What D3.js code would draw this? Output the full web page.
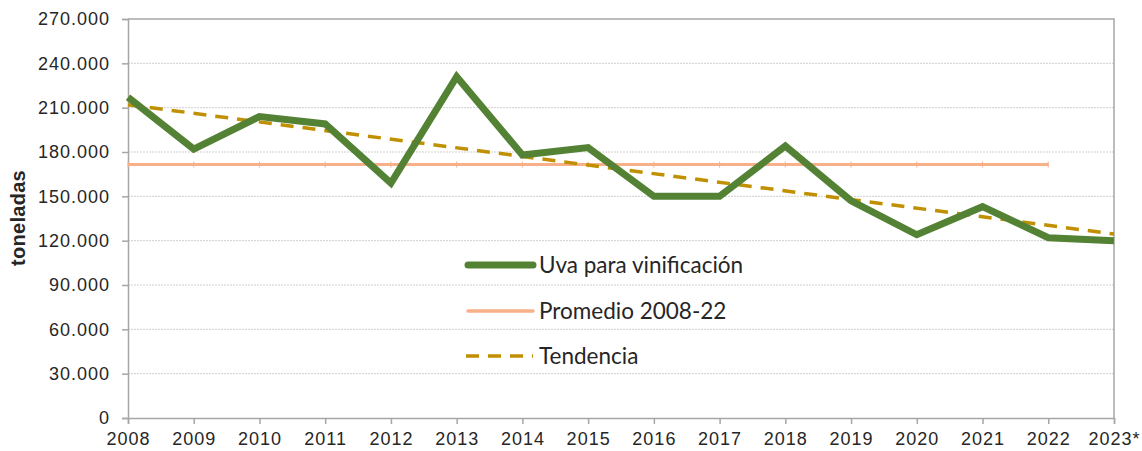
<!DOCTYPE html>
<html lang="es">
<head>
<meta charset="UTF-8">
<title>Uva para vinificación</title>
<script src="https://d3js.org/d3.v7.min.js"></script>
<style>
  * { margin: 0; padding: 0; }
  body { background: #fff; width: 1142px; height: 451px; overflow: hidden; }
  svg { display: block; }
  .tick-lbl { font-family: "Liberation Sans", Arial, sans-serif; font-size: 18px; fill: #262626; letter-spacing: 1px; }
  .legend-lbl { font-family: Lato, "Open Sans", sans-serif; font-size: 22.5px; fill: #262626; }
</style>
</head>
<body>
<svg id="chart" width="1142" height="451"></svg>
<script>
// datos
const years = ['2008','2009','2010','2011','2012','2013','2014','2015','2016','2017','2018','2019','2020','2021','2022','2023*'];
const uva = [217000, 182000, 204000, 199000, 159000, 231000, 178000, 183000, 150000, 150000, 184000, 147000, 124000, 143000, 122000, 120000];
const promedioYears = ['2008','2009','2010','2011','2012','2013','2014','2015','2016','2017','2018','2019','2020','2021','2022'];
const promedio = 171500;
const tendenciaYears = ['2008', '2023*'];
const tendencia = [212000, 124500];
const yTicks = [0, 30000, 60000, 90000, 120000, 150000, 180000, 210000, 240000, 270000];
const legendLabels = ['Uva para vinificación', 'Promedio 2008-22', 'Tendencia'];

(function() {
  const svg = d3.select('#chart');
  const m = { left: 128, right: 1114, top: 19, bottom: 418 };

  const x = d3.scalePoint().domain(years).range([m.left, m.right]);
  const y = d3.scaleLinear().domain([0, 270000]).range([m.bottom, m.top]);
  const fmt = v => d3.format(',')(v).replace(/,/g, '.');

  // rejilla
  svg.append('g').selectAll('line')
    .data(yTicks.filter(v => v > 0 && v < 270000))
    .join('line')
    .attr('x1', m.left).attr('x2', m.right)
    .attr('y1', d => y(d)).attr('y2', d => y(d))
    .attr('stroke', '#cfcfcf').attr('stroke-width', 1)
    .attr('stroke-dasharray', '2,1');

  // borde del área
  svg.append('path')
    .attr('d', `M${m.left},${m.top}H${m.right}V${m.bottom}`)
    .attr('fill', 'none').attr('stroke', '#a6a6a6').attr('stroke-width', 1.5);

  // eje y
  const yAxis = svg.append('g').attr('transform', `translate(${m.left},0)`)
    .call(d3.axisLeft(y).tickValues(yTicks).tickFormat(fmt).tickSizeOuter(0).tickSize(6).tickPadding(12));
  yAxis.select('.domain').attr('stroke', '#a6a6a6').attr('stroke-width', 1.5);
  yAxis.selectAll('.tick line').attr('stroke', '#a6a6a6').attr('stroke-width', 1.5);
  yAxis.selectAll('.tick text').attr('class', 'tick-lbl').attr('font-family', null).attr('font-size', null).attr('fill', null);

  // eje x
  const xAxis = svg.append('g').attr('transform', `translate(0,${m.bottom})`)
    .call(d3.axisBottom(x).tickSizeOuter(0).tickSize(6).tickPadding(8));
  xAxis.select('.domain').attr('stroke', '#a6a6a6').attr('stroke-width', 1.5);
  xAxis.selectAll('.tick line').attr('stroke', '#a6a6a6').attr('stroke-width', 1.5);
  xAxis.selectAll('.tick text').attr('class', 'tick-lbl').attr('font-family', null).attr('font-size', null).attr('fill', null);

  // título eje y
  svg.append('text')
    .attr('transform', 'translate(25,218) rotate(-90)')
    .attr('text-anchor', 'middle')
    .attr('font-family', '"Liberation Sans", Arial, sans-serif')
    .attr('font-size', 20).attr('font-weight', 'bold')
    .attr('letter-spacing', '0.3px')
    .attr('fill', '#262626')
    .text('toneladas');

  const line = d3.line().x(d => x(d[0])).y(d => y(d[1]));

  // promedio
  const promData = promedioYears.map(yr => [yr, promedio]);
  svg.append('path').datum(promData)
    .attr('d', line).attr('fill', 'none')
    .attr('stroke', '#f7b087').attr('stroke-width', 3);
  svg.append('g').selectAll('line').data(promData).join('line')
    .attr('x1', d => x(d[0])).attr('x2', d => x(d[0]))
    .attr('y1', d => y(d[1]) - 3).attr('y2', d => y(d[1]) + 3)
    .attr('stroke', '#f7b087').attr('stroke-width', 1);

  // tendencia
  svg.append('path').datum(tendenciaYears.map((yr, i) => [yr, tendencia[i]]))
    .attr('d', line).attr('fill', 'none')
    .attr('stroke', '#c09000').attr('stroke-width', 3.5)
    .attr('stroke-dasharray', '13,9');

  // uva
  svg.append('path').datum(years.map((yr, i) => [yr, uva[i]]))
    .attr('d', line).attr('fill', 'none')
    .attr('stroke', '#548235').attr('stroke-width', 7)
    .attr('stroke-linejoin', 'miter');

  // leyenda
  const lg = svg.append('g');
  const rows = [
    { y: 265, color: '#548235', w: 7, dash: null, cap: 'round' },
    { y: 311, color: '#f7b087', w: 3.5, dash: null, cap: 'round' },
    { y: 356, color: '#c09000', w: 3.5, dash: '13,9', cap: 'butt' },
  ];
  rows.forEach((r, i) => {
    lg.append('line')
      .attr('x1', r.dash ? 466 : 468).attr('x2', 533)
      .attr('y1', r.y).attr('y2', r.y)
      .attr('stroke', r.color).attr('stroke-width', r.w)
      .attr('stroke-linecap', r.cap)
      .attr('stroke-dasharray', r.dash);
    lg.append('text').attr('class', 'legend-lbl')
      .attr('x', 539).attr('y', r.y + 8)
      .text(legendLabels[i]);
  });
})();
</script>
</body>
</html>
